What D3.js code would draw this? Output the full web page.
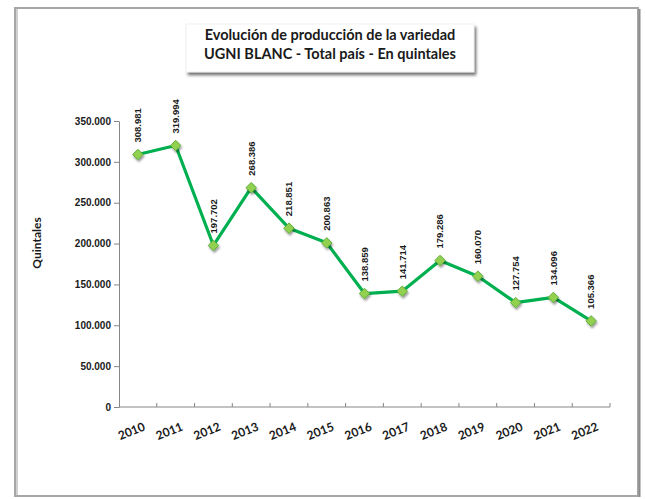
<!DOCTYPE html>
<html>
<head>
<meta charset="utf-8">
<script src="https://cdn.jsdelivr.net/npm/d3@7"></script>
<style>
  body { margin: 0; background: #fff; }
  svg { display: block; }
</style>
</head>
<body>
<div id="chart"></div>
<script>
// data
var years = ["2010", "2011", "2012", "2013", "2014", "2015", "2016",
             "2017", "2018", "2019", "2020", "2021", "2022"];
var quintales = [308981, 319994, 197702, 268386, 218851, 200863, 138859,
                 141714, 179286, 160070, 127754, 134096, 105366];
var yTicks = [0, 50000, 100000, 150000, 200000, 250000, 300000, 350000];
var titleLines = ["Evolución de producción de la variedad",
                  "UGNI BLANC - Total país - En quintales"];

var width = 645, height = 499;
var margin = { left: 119, right: 35, top: 121, bottom: 92 };

// thousands with a dot, as in the source
var fmt = function(v) {
	return d3.format(",")(v).replace(/,/g, ".");
};

var svg = d3.select("#chart")
	.append("svg")
	.attr("width", width)
	.attr("height", height);

var defs = svg.append("defs");

var sh = defs.append("filter").attr("id", "boxShadow")
	.attr("x", "-10%").attr("y", "-20%").attr("width", "125%").attr("height", "160%");
sh.append("feGaussianBlur").attr("in", "SourceAlpha").attr("stdDeviation", 1.6);
sh.append("feOffset").attr("dx", 2).attr("dy", 3).attr("result", "ob");
sh.append("feComponentTransfer").append("feFuncA").attr("type", "linear").attr("slope", 0.55);
var m1 = sh.append("feMerge");
m1.append("feMergeNode");
m1.append("feMergeNode").attr("in", "SourceGraphic");

var ms = defs.append("filter").attr("id", "markShadow")
	.attr("x", "-50%").attr("y", "-50%").attr("width", "200%").attr("height", "200%");
ms.append("feGaussianBlur").attr("in", "SourceAlpha").attr("stdDeviation", 1);
ms.append("feOffset").attr("dx", 1).attr("dy", 1.5);
ms.append("feComponentTransfer").append("feFuncA").attr("type", "linear").attr("slope", 0.4);
var m2 = ms.append("feMerge");
m2.append("feMergeNode");
m2.append("feMergeNode").attr("in", "SourceGraphic");

// outer frame
svg.append("rect")
	.attr("x", 15).attr("y", 8)
	.attr("width", 623).attr("height", 488)
	.attr("fill", "#fff")
	.attr("stroke", "#a6a6a6")
	.attr("stroke-width", 2);
svg.append("line")
	.attr("x1", 17).attr("x2", 17).attr("y1", 9).attr("y2", 495)
	.attr("stroke", "#d0d0d0").attr("stroke-width", 2);
svg.append("line")
	.attr("x1", 639.5).attr("x2", 639.5).attr("y1", 9).attr("y2", 497)
	.attr("stroke", "#8c8c8c").attr("stroke-width", 2);

// title box
var titleG = svg.append("g");
titleG.append("rect")
	.attr("x", 186).attr("y", 24)
	.attr("width", 288).attr("height", 48)
	.attr("fill", "#fff")
	.attr("stroke", "#e6e6e6")
	.attr("stroke-width", 0.6)
	.attr("filter", "url(#boxShadow)");

titleG.selectAll("text.title")
	.data(titleLines)
	.enter()
	.append("text")
	.attr("class", "title")
	.attr("x", 330)
	.attr("y", function(d, i) { return 40 + i * 19; })
	.attr("text-anchor", "middle")
	.attr("font-family", "Lato, 'Open Sans', sans-serif")
	.attr("font-weight", "bold")
	.attr("font-size", "14.5px")
	.attr("fill", "#1a1a1a")
	.text(function(d) { return d; })
	.each(function() {
		// squeeze to the Calibri width of the source
		var w = this.getComputedTextLength();
		var target = 277;
		if (w > target) {
			d3.select(this).attr("textLength", target).attr("lengthAdjust", "spacingAndGlyphs");
		}
	});

var x = d3.scaleBand()
	.domain(years)
	.range([margin.left, width - margin.right]);

var y = d3.scaleLinear()
	.domain([0, 350000])
	.range([height - margin.bottom, margin.top]);

// y axis
var yAxis = svg.append("g")
	.attr("transform", "translate(" + margin.left + ",0)")
	.call(d3.axisLeft(y).tickValues(yTicks).tickSize(5).tickSizeOuter(0).tickFormat(fmt));
yAxis.select(".domain").attr("stroke", "#868686");
yAxis.selectAll(".tick line").attr("stroke", "#868686");
yAxis.selectAll(".tick text")
	.attr("x", -8)
	.attr("font-family", "'Liberation Sans', Arial, sans-serif")
	.attr("font-weight", "bold")
	.attr("font-size", "10px")
	.attr("fill", "#1a1a1a");

// x axis: ticks between categories, pointing up
var xAxisG = svg.append("g")
	.attr("transform", "translate(0," + y(0) + ")");
xAxisG.append("line")
	.attr("x1", margin.left).attr("x2", width - margin.right)
	.attr("stroke", "#868686");
var bounds = years.map(function(d) { return x(d); }).concat([x(years[years.length - 1]) + x.bandwidth()]);
xAxisG.selectAll("line.tk")
	.data(bounds.slice(1))
	.enter()
	.append("line")
	.attr("class", "tk")
	.attr("x1", function(d) { return d; })
	.attr("x2", function(d) { return d; })
	.attr("y1", 0).attr("y2", -4)
	.attr("stroke", "#868686");

xAxisG.selectAll("text.yr")
	.data(years)
	.enter()
	.append("text")
	.attr("class", "yr")
	.attr("transform", function(d) {
		return "translate(" + (x(d) + x.bandwidth() / 2 + 5) + ",15) rotate(-22)";
	})
	.attr("text-anchor", "end")
	.attr("dy", "0.7em")
	.attr("font-family", "Lato, 'Open Sans', sans-serif")
	.attr("font-weight", "bold")
	.attr("font-size", "12px")
	.attr("fill", "#1a1a1a")
	.text(function(d) { return d; });

// y axis title
svg.append("text")
	.attr("transform", "translate(41,243) rotate(-90)")
	.attr("text-anchor", "middle")
	.attr("font-family", "Lato, 'Open Sans', sans-serif")
	.attr("font-weight", "bold")
	.attr("font-size", "12px")
	.attr("fill", "#1a1a1a")
	.text("Quintales");

// line
var line = d3.line()
	.x(function(d, i) { return x(years[i]) + x.bandwidth() / 2; })
	.y(function(d) { return y(d); });

svg.append("path")
	.datum(quintales)
	.attr("d", line)
	.attr("fill", "none")
	.attr("stroke", "#00b050")
	.attr("stroke-width", 3.2)
	.attr("stroke-linejoin", "round");

// diamond markers
var diamond = d3.symbol().type(d3.symbolDiamond2).size(70);
svg.selectAll("path.mark")
	.data(quintales)
	.enter()
	.append("path")
	.attr("class", "mark")
	.attr("d", diamond)
	.attr("transform", function(d, i) {
		return "translate(" + (x(years[i]) + x.bandwidth() / 2) + "," + y(d) + ")";
	})
	.attr("fill", "#92d050")
	.attr("stroke", "#5fae3a")
	.attr("stroke-width", 1)
	.attr("filter", "url(#markShadow)");

// value labels, vertical
svg.selectAll("text.val")
	.data(quintales)
	.enter()
	.append("text")
	.attr("class", "val")
	.attr("transform", function(d, i) {
		return "translate(" + (x(years[i]) + x.bandwidth() / 2) + "," + (y(d) - 12) + ") rotate(-90)";
	})
	.attr("dy", "0.35em")
	.attr("text-anchor", "start")
	.attr("font-family", "'Liberation Sans', Arial, sans-serif")
	.attr("font-weight", "bold")
	.attr("font-size", "9.5px")
	.attr("fill", "#1a1a1a")
	.text(function(d) { return fmt(d); });
</script>
</body>
</html>
